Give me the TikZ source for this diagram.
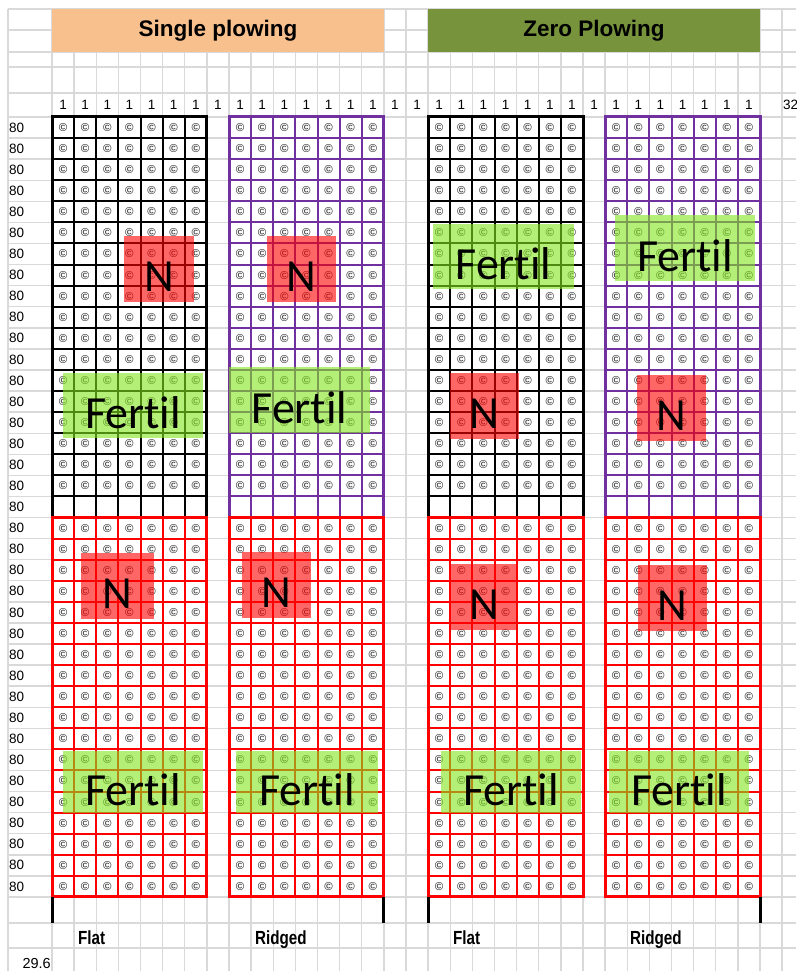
\documentclass[tikz,border=0pt]{standalone}
\usepackage{fontspec}
\setmainfont{Liberation Sans}
\newfontfamily\calibfont[Ligatures=NoCommon]{Carlito}
\newfontfamily\narrowfont[FakeStretch=0.8]{Liberation Sans}
\usetikzlibrary{positioning}
\definecolor{gridgray}{RGB}{217,217,217}
\definecolor{hdrorange}{RGB}{247,192,141}
\definecolor{hdrgreen}{RGB}{119,147,60}
\definecolor{plotpurple}{RGB}{112,48,160}
\definecolor{fertgreen}{RGB}{130,230,30}
\definecolor{nred}{RGB}{255,0,0}

\begin{document}
\begin{tikzpicture}[x=1pt, y=-1pt]

	\tikzset{
		bgline/.style={draw=gridgray, line width=1.4pt},
		header/.style={font=\bfseries\fontsize{22.5}{25}\selectfont, minimum width=332pt, minimum height=43pt, inner sep=0pt},
		small/.style={font=\fontsize{13.5}{15}\selectfont, inner sep=0pt},
		sidelabel/.style={font=\narrowfont\bfseries\fontsize{19}{21}\selectfont, inner sep=0pt, anchor=base west},
		seed/.style={font=\bfseries\fontsize{11.5}{12}\selectfont, text=black!75, inner sep=0pt},
		cellline/.style={line width=2pt},
		frame/.style={line width=3pt},
		nbox/.style={fill=nred, fill opacity=0.6, inner sep=0pt},
		fbox/.style={fill=fertgreen, fill opacity=0.6, inner sep=0pt},
		bigtext/.style={font=\calibfont\fontsize{46}{50}\selectfont, inner sep=0pt},
	}
	\def\cw{22.125}
	\def\rh{21.08}
	\useasboundingbox (0,0) rectangle (796,971);

	% sheet grid
	\draw[bgline] (8,9) -- (8,971);
	\foreach \i in {0,...,33} \draw[bgline] ({52+\i*\cw},9) -- ({52+\i*\cw},971);
	\foreach \y in {9,30,52,67,93,923,948} \draw[bgline] (8,\y) -- (796,\y);
	\foreach \r in {0,...,37} \draw[bgline] (8,{117+\r*\rh}) -- (796,{117+\r*\rh});

	% headers
	\node[header, fill=hdrorange] (single) at (218,30.5) {Single plowing};
	\node[header, fill=hdrgreen] (zero) at (594,30.5) {Zero Plowing};

	\foreach \i in {0,...,31} \node[small] (top\i) at ({52+(\i+0.5)*\cw},105) {1};
	\node[small, anchor=west] (total) at (783,105) {32};
	\foreach \r in {0,...,36} \node[small, anchor=west] (row\r) at (9,{117+(\r+0.5)*\rh}) {80};
	\node[small, anchor=east, font=\fontsize{14.5}{16}\selectfont] (width) at (51,963) {29.6};

	% plots
	\foreach \k/\col in {0/black, 8/plotpurple, 17/black, 25/plotpurple}{
		\pgfmathsetmacro\xa{52+\k*\cw}
		\pgfmathsetmacro\xb{\xa+7*\cw}
		\foreach \i in {1,...,6} \draw[cellline, \col] ({\xa+\i*\cw},117) -- ({\xa+\i*\cw},{117+19*\rh});
		\foreach \r in {1,...,18} \draw[cellline, \col] (\xa,{117+\r*\rh}) -- (\xb,{117+\r*\rh});
		\draw[frame, \col] (\xa,117) rectangle (\xb,{117+19*\rh});
		\foreach \i in {1,...,6} \draw[cellline, nred] ({\xa+\i*\cw},{117+19*\rh}) -- ({\xa+\i*\cw},{117+37*\rh});
		\foreach \r in {20,...,36} \draw[cellline, nred] (\xa,{117+\r*\rh}) -- (\xb,{117+\r*\rh});
		\draw[frame, nred] (\xa,{117+19*\rh}) rectangle (\xb,{117+37*\rh});
	}
	\draw[frame] (52,{117+37*\rh}) -- (52,923);
	\draw[frame] ({52+15*\cw},{117+37*\rh}) -- ({52+15*\cw},923);
	\draw[frame] ({52+17*\cw},{117+37*\rh}) -- ({52+17*\cw},923);
	\draw[frame] ({52+32*\cw},{117+37*\rh}) -- ({52+32*\cw},923);

	% seeds
	\foreach \k in {0,8,17,25}
		\foreach \r in {0,...,36}
			\foreach \i in {0,...,6}{
				\ifnum\r=18\relax\else
					\node[seed] (c\k-\r-\i) at ({52+(\k+\i+0.5)*\cw},{117+(\r+0.5)*\rh}) {\textcopyright};
				\fi
			}

	\node[sidelabel] (flat1) at (78,944) {Flat};
	\node[sidelabel] (ridged1) at (255,944) {Ridged};
	\node[sidelabel] (flat2) at (453,944) {Flat};
	\node[sidelabel] (ridged2) at (630,944) {Ridged};

	% treatments, upper row
	\node[nbox, minimum width=70pt, minimum height=66pt] (nA) at (159,269) {};
	\node[fbox, minimum width=140pt, minimum height=65pt] (fA) at (133,405.5) {};
	\node[nbox, minimum width=69pt, minimum height=66pt] (nB) at (301.5,269) {};
	\node[fbox, minimum width=141pt, minimum height=66pt] (fB) at (299.5,400) {};
	\node[fbox, minimum width=141pt, minimum height=65pt] (fC) at (503.5,256.5) {};
	\node[nbox, minimum width=69pt, minimum height=66pt] (nC) at (484.5,406) {};
	\node[fbox, minimum width=140pt, minimum height=66pt] (fD) at (685,248) {};
	\node[nbox, minimum width=69pt, minimum height=66pt] (nD) at (671.5,408) {};
	% treatments, lower row
	\node[nbox, minimum width=73pt, minimum height=66pt] (nE) at (117.5,586) {};
	\node[nbox, minimum width=69pt, minimum height=66pt] (nF) at (276.5,585) {};
	\node[nbox, minimum width=66pt, minimum height=66pt] (nG) at (484,597) {};
	\node[nbox, minimum width=69pt, minimum height=66pt] (nH) at (672.5,598) {};
	\node[fbox, minimum width=140pt, minimum height=62pt] (fE) at (133,782) {};
	\node[fbox, minimum width=142pt, minimum height=62pt] (fF) at (307,782) {};
	\node[fbox, minimum width=140pt, minimum height=62pt] (fG) at (511,782) {};
	\node[fbox, minimum width=140pt, minimum height=62pt] (fH) at (679,782) {};

	\foreach \b in {nA,nB,nC,nD,nE,nF,nG,nH}
		\node[bigtext] (\b-txt) at ([yshift=-7.5pt]\b.center) {N};
	\foreach \b in {fA,fB,fC,fD,fE,fF,fG,fH}
		\node[bigtext] (\b-txt) at ([yshift=-7.5pt]\b.center) {Fertil};

\end{tikzpicture}
\end{document}
